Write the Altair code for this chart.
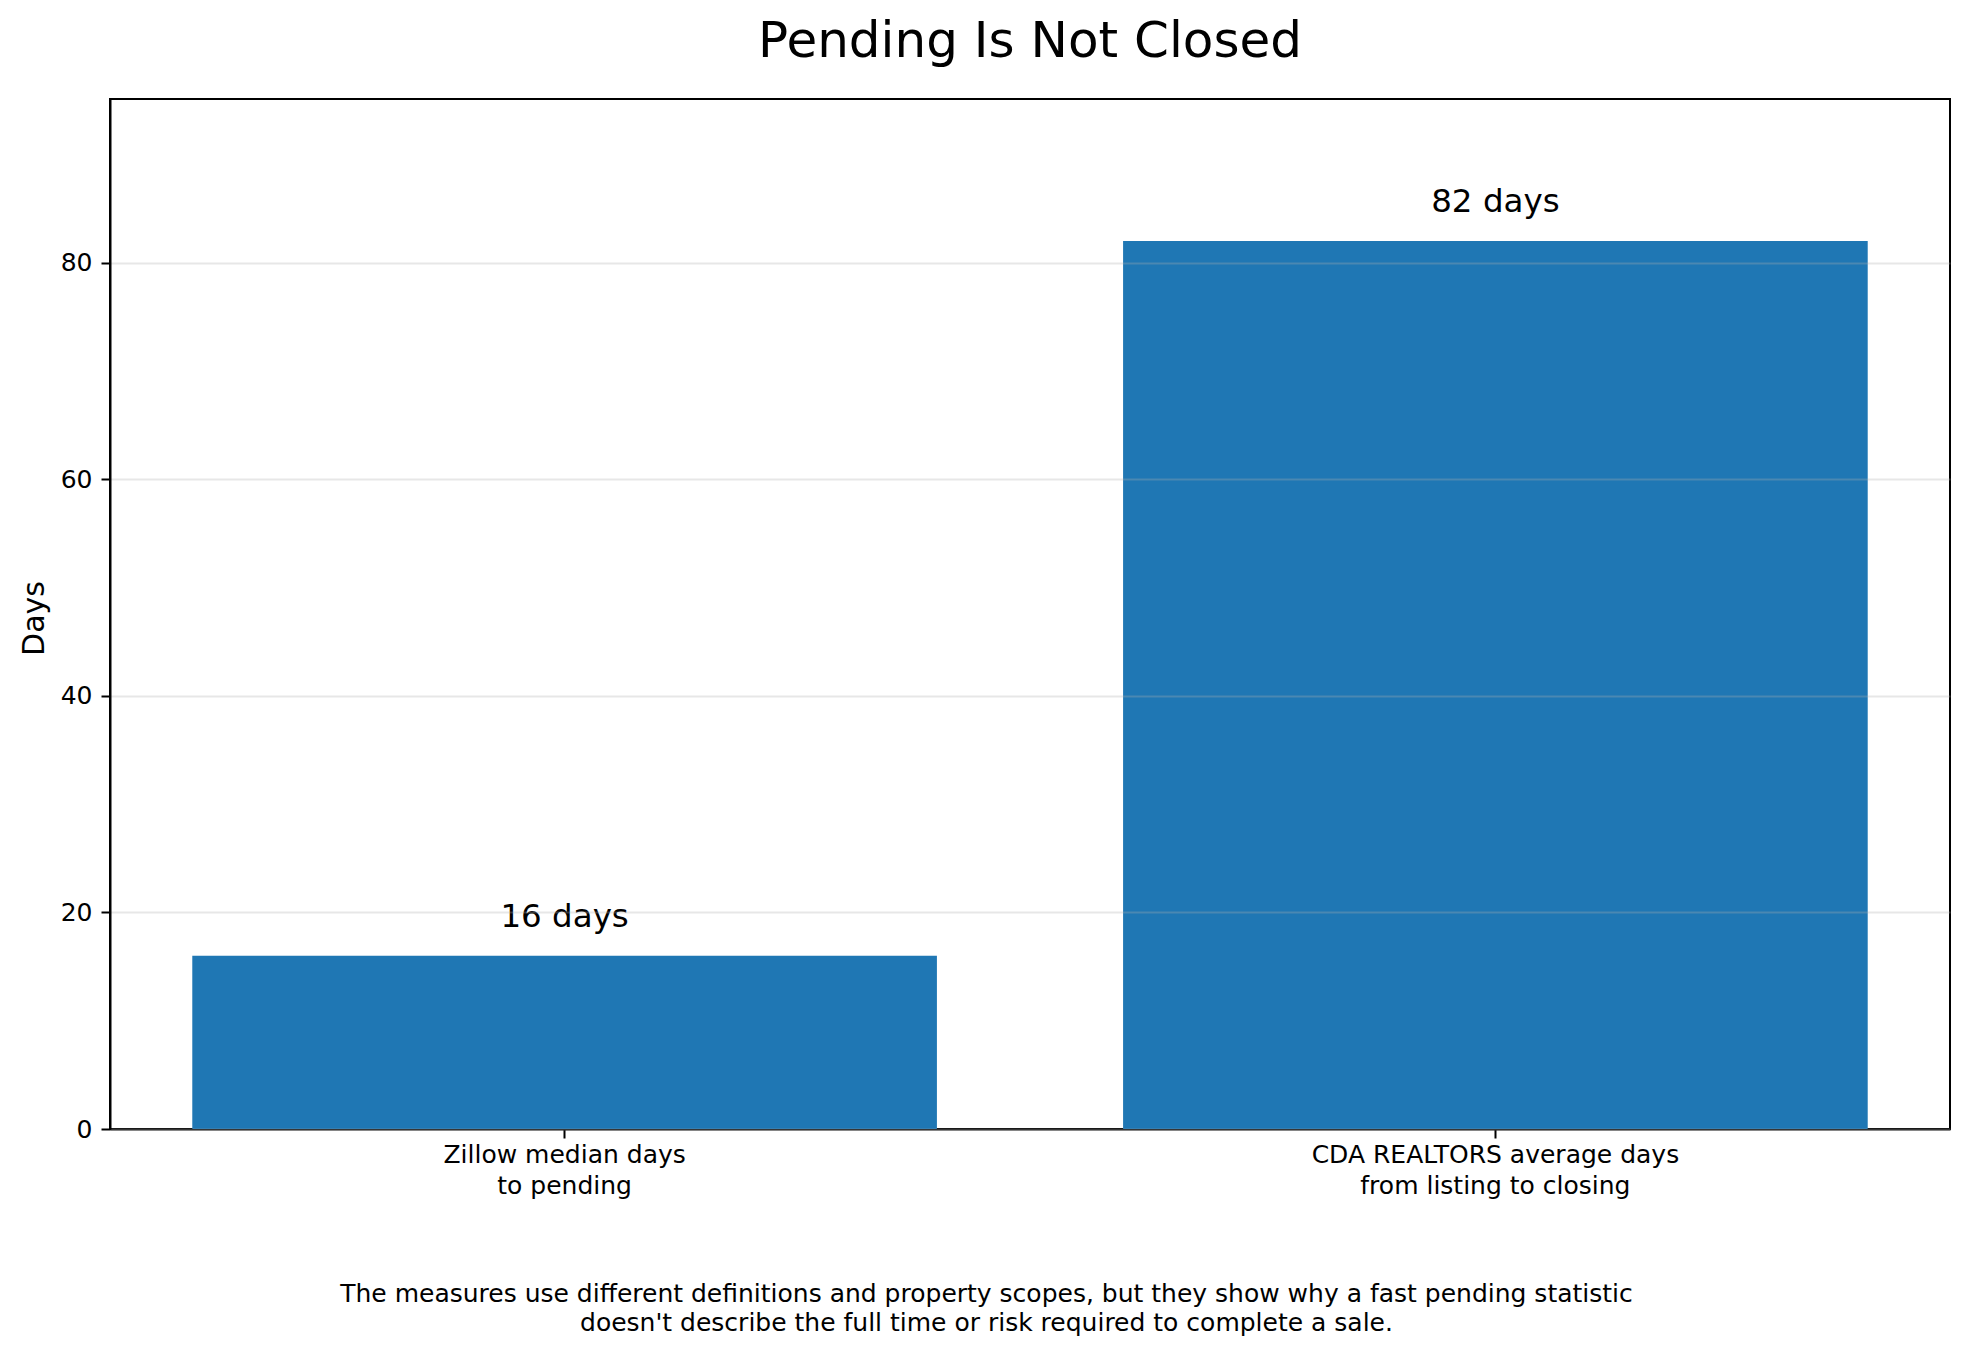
import altair as alt
import pandas as pd

# ---- data ----
categories = [
    "Zillow median days\nto pending",
    "CDA REALTORS average days\nfrom listing to closing",
]
values = [16, 82]
y_ticks = [0, 20, 40, 60, 80]
title_text = "Pending Is Not Closed"
y_title = "Days"
footer_lines = [
    "The measures use different definitions and property scopes, but they show why a fast pending statistic",
    "doesn't describe the full time or risk required to complete a sale.",
]

df = pd.DataFrame({"category": categories, "value": values})

FONT = "DejaVu Sans"
BAR = "#1f77b4"

x_enc = alt.X(
    "category:N",
    sort=None,
    scale=alt.Scale(paddingInner=0.2, paddingOuter=0.0884),
    axis=alt.Axis(
        title=footer_lines,
        labelAngle=0,
        labelExpr="split(datum.label, '\\n')",
        labelFont=FONT,
        labelFontSize=25,
        labelLineHeight=31,
        labelPadding=4,
        labelLimit=2000,
        labelColor="black",
        tickSize=9,
        tickWidth=2,
        tickColor="black",
        domainColor="black",
        domainWidth=2,
        grid=False,
        titleFont=FONT,
        titleFontSize=25,
        titleFontWeight="normal",
        titleLineHeight=29,
        titleX=876,
        titleY=172,
        titleBaseline="alphabetic",
        titleAlign="center",
        titleColor="black",
        titleLimit=4000,
    ),
)

y_enc = alt.Y(
    "value:Q",
    scale=alt.Scale(domain=[0, 95.1], nice=False, zero=True),
    axis=alt.Axis(
        title=y_title,
        values=y_ticks,
        format="d",
        labelFont=FONT,
        labelFontSize=25,
        labelPadding=9,
        labelColor="black",
        tickSize=9,
        tickWidth=2,
        tickColor="black",
        domainColor="black",
        domainWidth=2,
        grid=True,
        gridColor="#b0b0b0",
        gridOpacity=0.3,
        gridWidth=2,
        zindex=1,
        titleFont=FONT,
        titleFontSize=30,
        titleFontWeight="normal",
        titleAngle=270,
        titleX=-67,
        titleY=519,
        titleBaseline="alphabetic",
        titleAlign="center",
        titleColor="black",
    ),
)

base = alt.Chart(df).encode(x=x_enc, y=y_enc)

bars = base.mark_bar(color=BAR)

labels = base.transform_calculate(
    label="format(datum.value, 'd') + ' days'"
).mark_text(
    font=FONT, fontSize=32.5, baseline="alphabetic", align="center", dy=-29, color="black"
).encode(text="label:N")

chart = (
    alt.layer(bars, labels)
    .properties(
        width=1840,
        height=1030,
        autosize=alt.AutoSizeParams(type="none"),
        padding={"left": 102, "top": 91, "right": 11, "bottom": 214},
        title=alt.TitleParams(
            title_text,
            font=FONT,
            fontSize=50,
            fontWeight="normal",
            color="black",
            anchor="middle",
            frame="group",
            offset=-8,
            baseline="alphabetic",
        ),
    )
    .configure(font=FONT, background="white")
    .configure_view(stroke="black", strokeWidth=2)
)

chart.save("out.html", embed_options={"renderer": "svg", "actions": False})
